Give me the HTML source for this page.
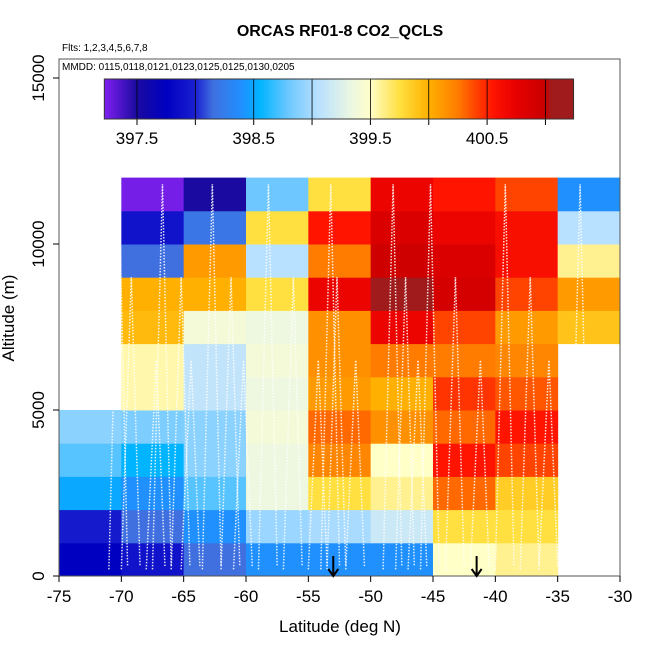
<!DOCTYPE html>
<html><head><meta charset="utf-8">
<style>body{margin:0;background:#fff}svg{display:block;font-family:"Liberation Sans",sans-serif}</style>
</head><body>
<svg id="chart" width="650" height="650" viewBox="0 0 650 650">
<defs><linearGradient id="cbg" x1="0" x2="1" y1="0" y2="0"></linearGradient></defs>
<g id="cells"></g>
<g id="tracks"></g>
<g id="axes"></g>
<text x="340" y="36" text-anchor="middle" font-size="16" font-weight="bold">ORCAS RF01-8 CO2_QCLS</text>
<text x="62" y="51" font-size="10">Flts: 1,2,3,4,5,6,7,8</text>
<text x="62" y="70" font-size="10">MMDD: 0115,0118,0121,0123,0125,0125,0130,0205</text>
<g id="cbar"></g>
<text x="340" y="632" text-anchor="middle" font-size="17">Latitude (deg N)</text>
<text transform="translate(14,318) rotate(-90)" text-anchor="middle" font-size="17">Altitude (m)</text>
</svg>
<script>
const latBins=[-75,-70,-65,-60,-55,-50,-45,-40,-35];
const altBins=[0,1000,2000,3000,4000,5000,6000,7000,8000,9000,10000,11000];
// rows bottom (0-1000 m) to top (11000-12000 m); null = no data
const co2Values=[
[397.75,397.9,398.15,398.4,398.4,398.4,399.5,399.6,null],
[397.95,398.15,398.4,398.95,399.0,399.15,399.75,399.75,null],
[398.5,398.4,398.75,399.35,399.75,399.6,400.3,399.85,null],
[398.75,398.55,398.9,399.35,400.2,399.5,400.55,400.4,null],
[398.9,398.85,398.9,399.4,400.3,400.15,400.3,400.55,null],
[null,399.55,399.1,399.35,400.1,400.0,400.45,400.35,null],
[null,399.55,399.1,399.4,400.15,400.25,400.25,400.2,null],
[null,399.95,399.4,399.35,400.15,400.7,400.4,400.1,399.9],
[null,400.0,400.0,399.75,400.7,401.1,400.9,400.4,400.1],
[null,398.15,400.1,399.05,400.25,400.95,400.85,400.6,399.6],
[null,397.9,398.2,399.75,400.55,400.85,400.7,400.6,399.05],
[null,397.25,397.5,398.8,399.75,400.7,400.55,400.4,398.4]
];
const xTicks=[-75,-70,-65,-60,-55,-50,-45,-40,-35,-30];
const yTicks=[0,5000,10000,15000];
const cbTicks=[397.5,398.5,399.5,400.5];
const arrowLats=[-53,-41.5];

const NS="http://www.w3.org/2000/svg";
const X=v=>59+(v+75)*(561/45);
const Y=v=>576-v*0.0332;
const CB=v=>137+(v-397.5)*116.7;
const stops=[[397.22,"#8020f0"],[397.5,"#1a0aa0"],[397.75,"#0000c0"],[398.0,"#1a20d0"],[398.15,"#4070e0"],[398.4,"#2090ff"],[398.55,"#00b4ff"],[398.8,"#6ec8ff"],[399.05,"#b8e0ff"],[399.35,"#eef8e0"],[399.5,"#ffffc8"],[399.6,"#fff090"],[399.75,"#ffe040"],[400.0,"#ffb000"],[400.25,"#ff7c00"],[400.4,"#ff4400"],[400.55,"#ff1400"],[400.75,"#e60000"],[401.0,"#c80000"],[401.05,"#a01c1c"],[401.3,"#a01c1c"]];
function hx(c){return [1,3,5].map(i=>parseInt(c.substr(i,2),16));}
function color(v){
  if(v<=stops[0][0])return stops[0][1];
  for(let i=1;i<stops.length;i++){if(v<=stops[i][0]){const a=hx(stops[i-1][1]),b=hx(stops[i][1]),t=(v-stops[i-1][0])/(stops[i][0]-stops[i-1][0]);return "rgb("+a.map((x,k)=>Math.round(x+(b[k]-x)*t)).join(",")+")";}}
  return stops[stops.length-1][1];
}
function mk(tag,attrs,parent){const e=document.createElementNS(NS,tag);for(const k in attrs)e.setAttribute(k,attrs[k]);parent.appendChild(e);return e;}
const cells=document.getElementById('cells');
co2Values.forEach((row,r)=>row.forEach((v,c)=>{
  if(v===null)return;
  const x0=X(latBins[c]),x1=X(latBins[c]+5),y0=Y(altBins[r]+1000),y1=Y(altBins[r]);
  const e=mk('rect',{x:x0,y:y0,width:x1-x0+0.5,height:y1-y0+0.5,fill:color(v)},cells);
  
  
}));
// decorative flight tracks
const tr=document.getElementById('tracks');
const trackLats=[-71,-70,-68,-67.5,-66,-65.2,-63.5,-62,-61,-59,-57,-55,-54,-53.5,-52,-49,-48,-47,-46,-44,-42,-40,-38,-36.5,-34];
trackLats.forEach((l,i)=>{
  const top=(i%3===0)?11800:(i%3===1)?9000:6500;
  const p=mk('polyline',{points:`${X(l)},${Y(200)} ${X(l+0.8)},${Y(top)} ${X(l+1.5)},${Y(300)}`,fill:"none",stroke:"#fff","stroke-width":1.5,"stroke-dasharray":"1.5,1.5",opacity:0.85},tr);
  
  
});
const ax=document.getElementById('axes');
mk('rect',{x:59,y:59,width:561,height:517,fill:"none",stroke:"#555","stroke-width":1},ax);
xTicks.forEach(t=>{
  mk('line',{x1:X(t),x2:X(t),y1:576,y2:582,stroke:"#000"},ax);
  const e=mk('text',{x:X(t),y:602,"text-anchor":"middle","font-size":17},ax);e.textContent=t;
  
  
});
yTicks.forEach(t=>{
  mk('line',{x1:53,x2:59,y1:Y(t),y2:Y(t),stroke:"#000"},ax);
  const e=mk('text',{transform:`translate(44,${Y(t)}) rotate(-90)`,"text-anchor":"middle","font-size":17},ax);e.textContent=t;
  
  
});
arrowLats.forEach(l=>{
  const g=mk('g',{},ax);
  
  
  mk('line',{x1:X(l),x2:X(l),y1:556,y2:576,stroke:"#000","stroke-width":2},g);
  mk('polyline',{points:`${X(l)-5},${569} ${X(l)},${576} ${X(l)+5},${569}`,fill:"none",stroke:"#000","stroke-width":2},g);
});
// color bar
const cb=document.getElementById('cbar');
const lo=397.22,hi=401.24;
for(let i=0;i<200;i++){const v0=lo+(hi-lo)*i/200,v1=lo+(hi-lo)*(i+1)/200;
  mk('rect',{x:CB(v0),y:79,width:CB(v1)-CB(v0)+0.6,height:40,fill:color((v0+v1)/2)},cb);}
for(let v=397.5;v<=401.01;v+=0.5){mk('line',{x1:CB(v),x2:CB(v),y1:79,y2:119,stroke:"#000","stroke-width":0.8},cb);mk('line',{x1:CB(v),x2:CB(v),y1:119,y2:125,stroke:"#000"},cb);}
mk('rect',{x:CB(lo),y:79,width:CB(hi)-CB(lo),height:40,fill:"none",stroke:"#333"},cb);
cbTicks.forEach(t=>{const e=mk('text',{x:CB(t),y:144,"text-anchor":"middle","font-size":17},cb);e.textContent=t.toFixed(1);
  
  });
</script>
</body></html>
